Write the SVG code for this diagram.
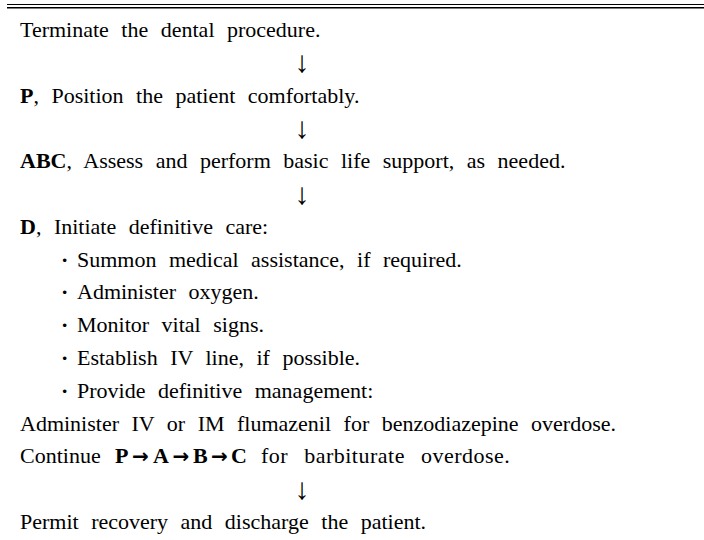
<svg xmlns="http://www.w3.org/2000/svg" width="704" height="540" viewBox="0 0 704 540">
<style>
text{font-family:"Liberation Serif","Times New Roman",serif;font-size:22px;fill:#000;word-spacing:7px}
.b{font-weight:bold}
.arr{font-size:30px;word-spacing:0}
.ra{font-family:"DejaVu Sans",sans-serif;font-weight:bold;font-size:20px}
.dot{font-weight:bold}
.tail{letter-spacing:0.5px;word-spacing:10px}
</style>
<rect x="0" y="0" width="704" height="540" fill="#fff"/>
<g id="border">
<line x1="7" y1="4.5" x2="704" y2="4.5" stroke="#000" stroke-width="1"/>
<line x1="7" y1="7.8" x2="704" y2="7.8" stroke="#000" stroke-width="1.6"/>
</g>
<g id="n1"><text x="20" y="37">Terminate the dental procedure.</text></g>
<g id="n2"><text x="20" y="102.6"><tspan class="b">P</tspan>, Position the patient comfortably.</text></g>
<g id="n3"><text x="20" y="168.2"><tspan class="b">ABC</tspan>, Assess and perform basic life support, as needed.</text></g>
<g id="n4">
<text x="20" y="233.8"><tspan class="b">D</tspan>, Initiate definitive care:</text>
<text x="61" y="266.6"><tspan class="dot">·</tspan><tspan x="77">Summon medical assistance, if required.</tspan></text>
<text x="61" y="299.4"><tspan class="dot">·</tspan><tspan x="77">Administer oxygen.</tspan></text>
<text x="61" y="332.2"><tspan class="dot">·</tspan><tspan x="77">Monitor vital signs.</tspan></text>
<text x="61" y="365"><tspan class="dot">·</tspan><tspan x="77">Establish IV line, if possible.</tspan></text>
<text x="61" y="397.8"><tspan class="dot">·</tspan><tspan x="77">Provide definitive management:</tspan></text>
<text x="20" y="430.6">Administer IV or IM flumazenil for benzodiazepine overdose.</text>
<text x="20" y="463.4">Continue <tspan class="b" x="115">P</tspan><tspan class="ra" x="132">→</tspan><tspan class="b" x="153">A</tspan><tspan class="ra" x="172.5">→</tspan><tspan class="b" x="193">B</tspan><tspan class="ra" x="211">→</tspan><tspan class="b" x="231">C</tspan><tspan class="tail" x="261">for barbiturate overdose.</tspan></text>
</g>
<g id="n5"><text x="20" y="529">Permit recovery and discharge the patient.</text></g>
<g id="connectors">
<text class="arr" x="302" y="72.3" text-anchor="middle">↓</text>
<text class="arr" x="302" y="137.9" text-anchor="middle">↓</text>
<text class="arr" x="302" y="203.5" text-anchor="middle">↓</text>
<text class="arr" x="302" y="498.7" text-anchor="middle">↓</text>
</g>
</svg>
